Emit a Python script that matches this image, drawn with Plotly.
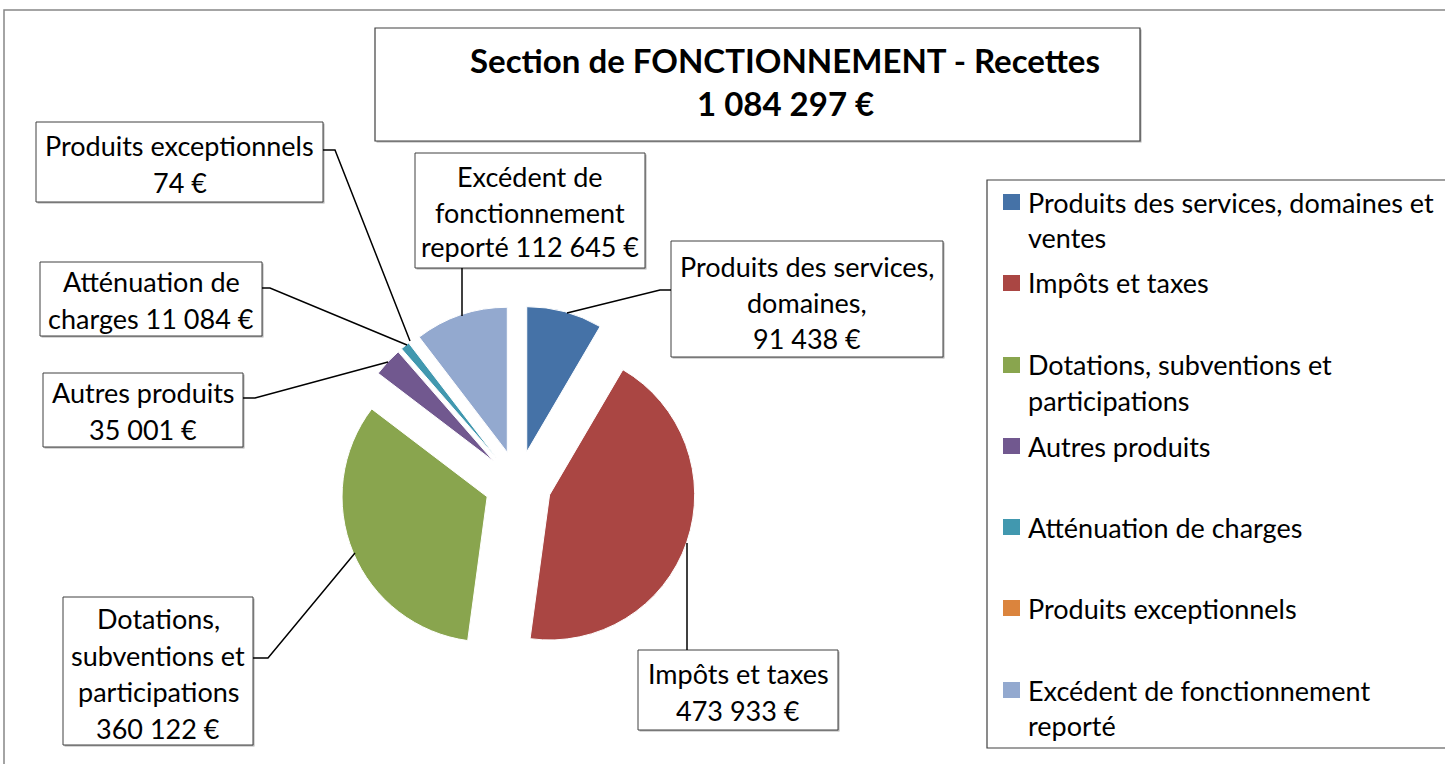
import plotly.graph_objects as go

W, H = 1445, 764

categories = [
    "Produits des services, domaines et ventes",
    "Impôts et taxes",
    "Dotations, subventions et participations",
    "Autres produits",
    "Atténuation de charges",
    "Produits exceptionnels",
    "Excédent de fonctionnement reporté",
]
values = [91438, 473933, 360122, 35001, 11084, 74, 112645]
colors = ["#4572A7", "#AA4643", "#89A54E", "#71588F", "#4198AF", "#DB843D", "#93A9CF"]

label_names = [
    ["Produits des services,", "domaines,"],
    ["Impôts et taxes"],
    ["Dotations,", "subventions et", "participations"],
    ["Autres produits"],
    ["Atténuation de"],
    ["Produits exceptionnels"],
    ["Excédent de", "fonctionnement"],
]
# text placed before the value on the value's line (None => value on its own line)
value_joined_prefix = [None, None, None, None, "charges", None, "reporté"]

legend_lines = [
    ["Produits des services, domaines et", "ventes"],
    ["Impôts et taxes"],
    ["Dotations, subventions et", "participations"],
    ["Autres produits"],
    ["Atténuation de charges"],
    ["Produits exceptionnels"],
    ["Excédent de fonctionnement", "reporté"],
]
title_lines = ["Section de FONCTIONNEMENT - Recettes", "1 084 297 €"]


def fmt(v):
    return f"{v:,}".replace(",", " ") + " €"


def px(x):
    return x / W


def py(y):
    return 1 - y / H


FONT = "Lato"
TXT = 27

fig = go.Figure()
fig.add_trace(go.Pie(
    labels=categories,
    values=values,
    sort=False,
    direction="clockwise",
    rotation=0,
    pull=[0.23] * len(values),
    marker=dict(colors=colors, line=dict(color="white", width=1)),
    textinfo="none",
    hoverinfo="label+value+percent",
    showlegend=False,
    domain=dict(x=[px(339.5), px(696.5)], y=[py(662.5), py(305.5)]),
))

shapes = []
annotations = []

# outer chart border
shapes.append(dict(type="rect", xref="paper", yref="paper", x0=px(4), x1=px(1470), y0=py(10), y1=py(790),
                   line=dict(color="#868686", width=1.5), fillcolor="rgba(0,0,0,0)", layer="below"))

# title box
shapes.append(dict(type="rect", xref="paper", yref="paper", x0=px(376.5), x1=px(1141.5), y0=py(29.5), y1=py(142.5),
                   line=dict(width=0), fillcolor="#b0b0b0", layer="below"))
shapes.append(dict(type="rect", xref="paper", yref="paper", x0=px(375), x1=px(1140), y0=py(28), y1=py(141),
                   line=dict(color="#404040", width=1.2), fillcolor="white", layer="below"))
for t, y in zip(title_lines, [60, 103]):
    annotations.append(dict(x=px(785), y=py(y), xref="paper", yref="paper", text=f"<b>{t}</b>",
                            showarrow=False, xanchor="center", yanchor="middle",
                            font=dict(family=FONT, size=33, color="black")))

# data label boxes
boxes = [
    (671, 241, 943, 357),
    (638, 650, 838, 730),
    (63, 597, 253, 745),
    (43, 373, 243, 447),
    (40, 262, 262, 336),
    (36, 122, 323, 202),
    (415, 153, 645, 268),
]
line_ys = [
    [266, 302, 338],
    [673, 710],
    [618, 655, 691, 728],
    [392, 430],
    [281, 319],
    [145, 182],
    [176, 212, 247],
]
leaders = [
    [(671, 290), (660, 290), (567, 313)],
    [(687, 650), (687, 543)],
    [(253, 658), (268, 658), (355, 553)],
    [(243, 398), (255, 398), (388, 362)],
    [(262, 288), (270, 288), (407, 345)],
    [(323, 150), (335, 150), (410, 341)],
    [(462, 268), (462, 316)],
]

for i, v in enumerate(values):
    x0, y0, x1, y1 = boxes[i]
    shapes.append(dict(type="rect", xref="paper", yref="paper", x0=px(x0 + 1.5), x1=px(x1 + 1.5),
                       y0=py(y0 + 1.5), y1=py(y1 + 1.5), line=dict(width=0), fillcolor="#b0b0b0", layer="below"))
    shapes.append(dict(type="rect", xref="paper", yref="paper", x0=px(x0), x1=px(x1), y0=py(y0), y1=py(y1),
                       line=dict(color="#404040", width=1), fillcolor="white", layer="below"))
    if value_joined_prefix[i]:
        lines = label_names[i] + [value_joined_prefix[i] + " " + fmt(v)]
    else:
        lines = label_names[i] + [fmt(v)]
    cx = (x0 + x1) / 2
    for t, y in zip(lines, line_ys[i]):
        annotations.append(dict(x=px(cx), y=py(y), xref="paper", yref="paper", text=t, showarrow=False,
                                xanchor="center", yanchor="middle", font=dict(family=FONT, size=TXT, color="black")))
    pts = leaders[i]
    path = "M " + " L ".join(f"{px(a)} {py(b)}" for a, b in pts)
    shapes.append(dict(type="path", xref="paper", yref="paper", path=path,
                       line=dict(color="black", width=1.5), layer="above"))

# legend
shapes.append(dict(type="rect", xref="paper", yref="paper", x0=px(987), x1=px(1470), y0=py(180), y1=py(748),
                   line=dict(color="#404040", width=1.2), fillcolor="white", layer="below"))
leg_first_y = [202, 283, 365, 446, 527, 608, 690]
for i, lines in enumerate(legend_lines):
    y = leg_first_y[i]
    shapes.append(dict(type="rect", xref="paper", yref="paper", x0=px(1003), x1=px(1020), y0=py(y - 8),
                       y1=py(y + 8), line=dict(width=0), fillcolor=colors[i], layer="above"))
    for k, t in enumerate(lines):
        annotations.append(dict(x=px(1026), y=py(y + 35.5 * k), xref="paper", yref="paper", text=t,
                                showarrow=False, xanchor="left", yanchor="middle",
                                font=dict(family=FONT, size=TXT, color="black")))

fig.update_layout(
    width=W, height=H,
    margin=dict(l=0, r=0, t=0, b=0),
    paper_bgcolor="white",
    plot_bgcolor="white",
    shapes=shapes,
    annotations=annotations,
    showlegend=False,
)

fig.write_html("out.html", config={"displayModeBar": False},
               post_script="document.body.style.margin='0';document.body.style.overflow='hidden';")
